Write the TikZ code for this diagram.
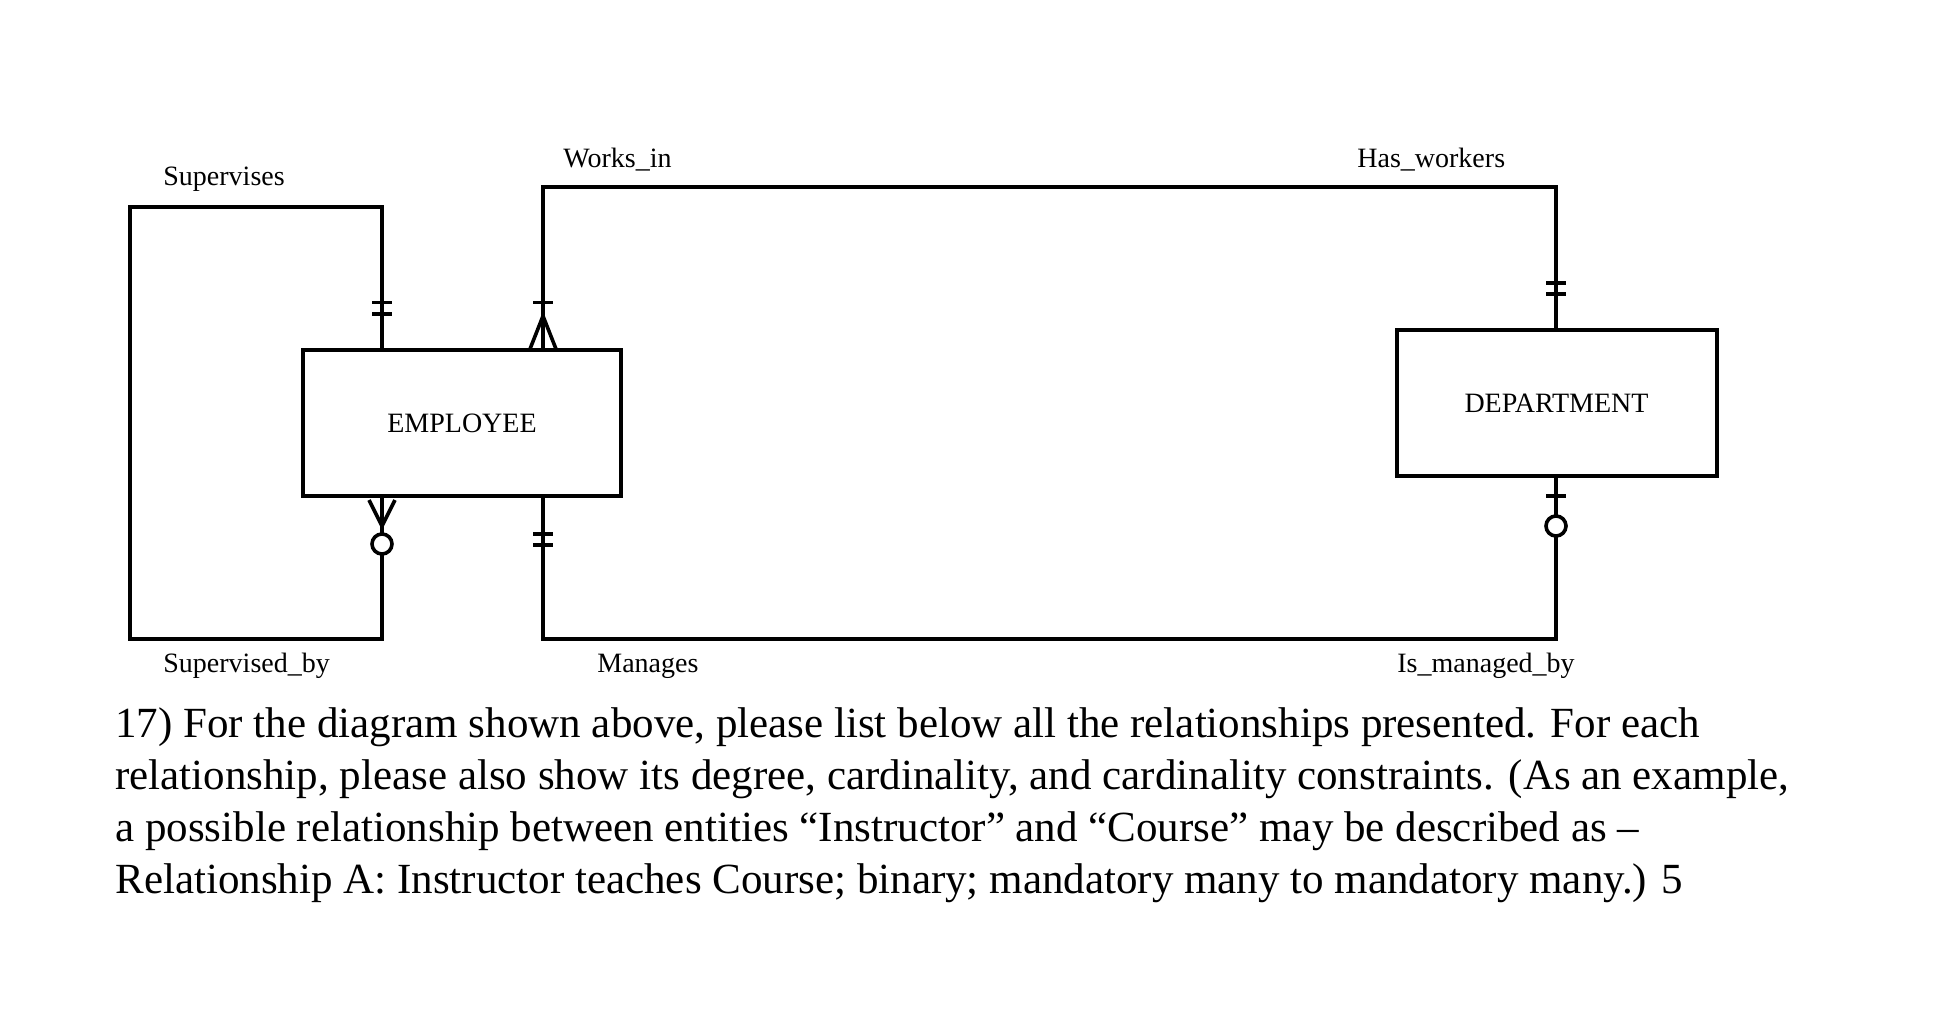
\documentclass[tikz,border=0pt]{standalone}
\usepackage{fontspec}
\setmainfont{Liberation Serif}
\begin{document}
\begin{tikzpicture}[x=0.5pt,y=-0.5pt,
  ent/.style={draw,line width=2pt,minimum width=159pt,minimum height=73pt,inner sep=0pt,font=\fontsize{14}{16}\selectfont},
  ln/.style={line width=1.8pt},
  lbl/.style={font=\fontsize{14}{16}\selectfont,inner sep=0pt},
  para/.style={anchor=base west,inner sep=0pt,font=\fontsize{21.5}{26}\selectfont}]
\useasboundingbox (0,0) rectangle (1960,1022);
\node[ent,minimum width=159pt] (emp) at (462,423) {EMPLOYEE};
\node[ent,minimum width=160pt] (dep) at (1556.5,403) {DEPARTMENT};
\coordinate (s1) at (382,207); \coordinate (s2) at (130,207);
\coordinate (s3) at (130,639); \coordinate (s4) at (382,639);
\coordinate (w1) at (543,187); \coordinate (w2) at (1556,187);
\coordinate (m1) at (543,639); \coordinate (m2) at (1556,639);
% Supervises loop
\draw[ln] (emp.north -| s1) -- (s1) -- (s2) -- (s3) -- (s4) -- (382,554);
\draw[ln] (382,534) -- (emp.south -| s4);
\draw[ln] (382,544) circle (5pt);
\draw[ln] (369,500) -- (382,526) -- (395,500);
\draw[ln] (372,302.5) -- (392,302.5) (372,314) -- (392,314);
% Works_in / Has_workers
\draw[ln] (emp.north -| w1) -- (w1) -- (w2) -- (dep.north -| w2);
\draw[ln] (533,302.5) -- (553,302.5);
\draw[ln] (530,349) -- (543,316) -- (556,349);
\draw[ln] (1546,283) -- (1566,283) (1546,294) -- (1566,294);
% Manages / Is_managed_by
\draw[ln] (emp.south -| m1) -- (m1) -- (m2) -- (1556,536);
\draw[ln] (1556,516) -- (dep.south -| m2);
\draw[ln] (1556,526) circle (5pt);
\draw[ln] (1546,496) -- (1566,496);
\draw[ln] (533,534) -- (553,534) (533,545) -- (553,545);
% labels
\node[lbl,anchor=west] (l1) at (163,179) {Supervises};
\node[lbl,anchor=west] (l2) at (563,160) {Works\_in};
\node[lbl,anchor=west] (l3) at (1357,160) {Has\_workers};
\node[lbl,anchor=west] (l4) at (163,666) {Supervised\_by};
\node[lbl,anchor=west] (l5) at (597,666) {Manages};
\node[lbl,anchor=west] (l6) at (1397,666) {Is\_managed\_by};
% paragraph
\node[para] (p1) at (115,737) {17) For the diagram shown above, please list below all the relationships presented. For each};
\node[para] (p2) at (115,789) {relationship, please also show its degree, cardinality, and cardinality constraints. (As an example,};
\node[para] (p3) at (115,841) {a possible relationship between entities “Instructor” and “Course” may be described as --};
\node[para] (p4) at (115,893) {Relationship A: Instructor teaches Course; binary; mandatory many to mandatory many.) 5};
\end{tikzpicture}
\end{document}
